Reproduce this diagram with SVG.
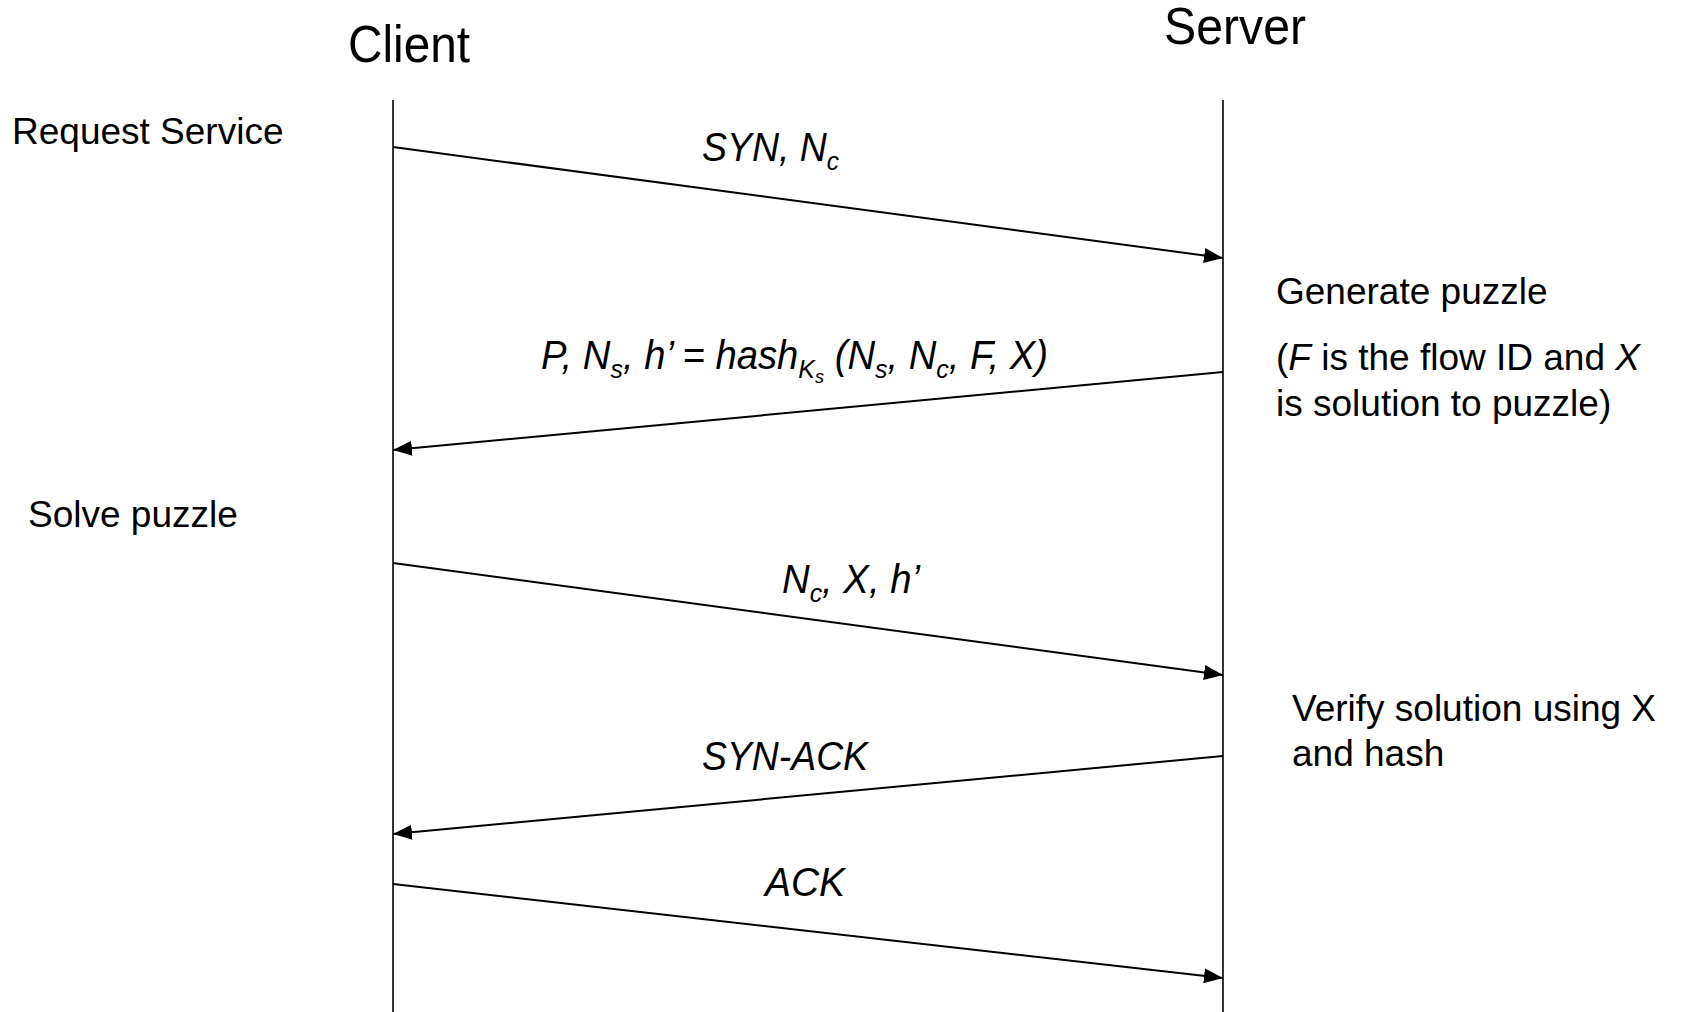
<svg xmlns="http://www.w3.org/2000/svg" width="1681" height="1012" viewBox="0 0 1681 1012">
  <style>
    .title { font-family: "Liberation Sans", Arial, sans-serif; font-size: 52px; fill: #000; }
    .note { font-family: "Liberation Sans", Arial, sans-serif; font-size: 37px; fill: #000; }
    .msg { font-family: "Liberation Sans", Arial, sans-serif; font-size: 40px; font-style: italic; fill: #000; }
    .sub { font-size: 26px; }
    .subsub { font-size: 19px; }
    .life { stroke: #000; stroke-width: 1.6; fill: none; }
    .arrow { stroke: #000; stroke-width: 2; fill: none; marker-end: url(#head); }
  </style>
  <defs>
    <marker id="head" markerUnits="userSpaceOnUse" markerWidth="20" markerHeight="16" refX="19" refY="7.5" orient="auto">
      <path d="M0,0 L19,7.5 L0,15 z" fill="#000"/>
    </marker>
  </defs>
  <rect width="1681" height="1012" fill="#fff"/>

  <!-- participants -->
  <g id="client">
    <text class="title" x="348" y="62" textLength="122" lengthAdjust="spacingAndGlyphs">Client</text>
    <line class="life" x1="393" y1="100" x2="393" y2="1012"/>
  </g>
  <g id="server">
    <text class="title" x="1164" y="44" textLength="142" lengthAdjust="spacingAndGlyphs">Server</text>
    <line class="life" x1="1223" y1="100" x2="1223" y2="1012"/>
  </g>

  <!-- side notes -->
  <g id="note-request">
    <text class="note" x="12" y="144">Request Service</text>
  </g>
  <g id="note-generate">
    <text class="note" x="1276" y="304">Generate puzzle</text>
    <text class="note" x="1276" y="370">(<tspan font-style="italic">F</tspan> is the flow ID and <tspan font-style="italic">X</tspan></text>
    <text class="note" x="1276" y="416">is solution to puzzle)</text>
  </g>
  <g id="note-solve">
    <text class="note" x="28" y="527">Solve puzzle</text>
  </g>
  <g id="note-verify">
    <text class="note" x="1292" y="721">Verify solution using X</text>
    <text class="note" x="1292" y="766">and hash</text>
  </g>

  <!-- messages -->
  <g id="connectors">
    <line class="arrow" x1="393" y1="147" x2="1223" y2="258"/>
    <line class="arrow" x1="1223" y1="372" x2="393" y2="450"/>
    <line class="arrow" x1="393" y1="563" x2="1223" y2="675"/>
    <line class="arrow" x1="1223" y1="756" x2="393" y2="834"/>
    <line class="arrow" x1="393" y1="884" x2="1223" y2="978"/>
  </g>

  <g id="labels">
    <text class="msg" x="702" y="161" textLength="137" lengthAdjust="spacingAndGlyphs">SYN, N<tspan class="sub" dy="9">c</tspan></text>
    <text class="msg" x="541" y="369" textLength="507" lengthAdjust="spacingAndGlyphs">P, N<tspan class="sub" dy="9">s</tspan><tspan dy="-9">, h’ = hash</tspan><tspan class="sub" dy="9">K</tspan><tspan class="subsub" dy="5">s</tspan><tspan dy="-14"> (N</tspan><tspan class="sub" dy="9">s</tspan><tspan dy="-9">, N</tspan><tspan class="sub" dy="9">c</tspan><tspan dy="-9">, F, X)</tspan></text>
    <text class="msg" x="782" y="593" textLength="138" lengthAdjust="spacingAndGlyphs">N<tspan class="sub" dy="9">c</tspan><tspan dy="-9">, X, h’</tspan></text>
    <text class="msg" x="702" y="770" textLength="166" lengthAdjust="spacingAndGlyphs">SYN-ACK</text>
    <text class="msg" x="765" y="896" textLength="80" lengthAdjust="spacingAndGlyphs">ACK</text>
  </g>
</svg>
